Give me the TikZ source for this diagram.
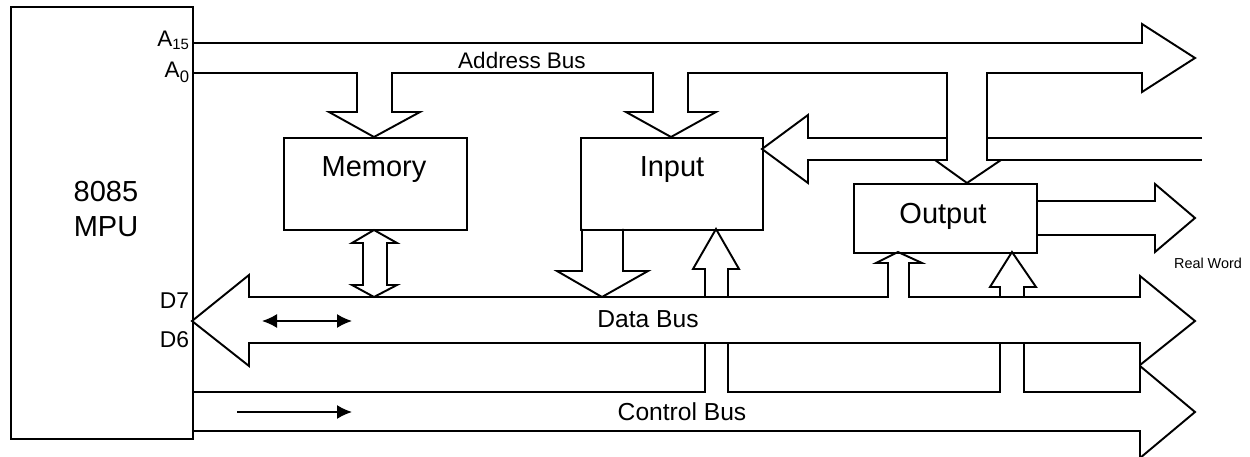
\documentclass[tikz,border=0pt]{standalone}
\usepackage{fontspec}
\setmainfont{Liberation Sans}
\usetikzlibrary{arrows.meta}

\newcommand{\fsz}[1]{\fontsize{#1}{#1}\selectfont}

\begin{document}
\begin{tikzpicture}[x=0.2mm, y=-0.2mm, line width=1.1pt, line join=miter,
            box/.style={draw, rectangle, inner sep=0pt, anchor=north west},
            blktxt/.style={inner sep=0pt, anchor=base, font=\fsz{16.5}},
            bustxt/.style={inner sep=0pt, anchor=base, font=\fsz{14}},
            pintxt/.style={inner sep=0pt, anchor=base east, font=\fsz{12.8}},
            hint/.style={line width=0.9pt, >={Latex[length=3mm,width=2.8mm]}}]
            \useasboundingbox (0,0) rectangle (1250,457);

            % blocks
            \node[box, minimum width=3.64cm, minimum height=8.64cm] (mpu) at (10,6) {};
            \node[box, minimum width=3.66cm, minimum height=1.84cm] (memory) at (283,137) {};
            \node[box, minimum width=3.64cm, minimum height=1.84cm] (input) at (580,137) {};
            \node[box, minimum width=3.66cm, minimum height=1.38cm] (output) at (853,183) {};

            \node[blktxt] (cpunum) at (106,202) {8085};
            \node[blktxt] (cpuname) at (106,237) {MPU};
            \node[blktxt] (memtxt) at (374,177) {Memory};
            \node[blktxt] (intxt) at (672,177) {Input};
            \node[blktxt] (outtxt) at (943,224) {Output};

            % pins on the MPU
            \node[pintxt] (a15) at (190,47) {A\raisebox{-0.06cm}{\fsz{8.5}15}};
            \node[pintxt] (a0) at (190,78) {A\raisebox{-0.1cm}{\fsz{9.5}0}};
            \node[pintxt, font=\fsz{13}] (d7) at (190,308) {D7};
            \node[pintxt, font=\fsz{13}] (d6) at (190,347) {D6};

            % address bus with the taps into memory, input and output
            \draw (192,43) -- (1142,43) -- (1142,24) -- (1195,58) -- (1142,92) -- (1142,73)
                -- (987,73) -- (987,160) -- (1001,160) -- (967,183) -- (935,160) -- (947,160) -- (947,73)
                -- (688,73) -- (688,112) -- (716,112) -- (671,137) -- (626,112) -- (653,112) -- (653,73)
                -- (392,73) -- (392,112) -- (420,112) -- (374,137) -- (329,112) -- (357,112) -- (357,73)
                -- (192,73);
            \node[bustxt, font=\fsz{12.8}] (addrtxt) at (522,69) {Address Bus};

            % outside world into input
            \draw (1202,138) -- (987,138);
            \draw (947,138) -- (808,138) -- (808,115) -- (762,149) -- (808,183) -- (808,160) -- (935,160);
            \draw (1001,160) -- (1202,160);

            % output to the outside world
            \draw (1036,201) -- (1155,201) -- (1155,184) -- (1195,218) -- (1155,252) -- (1155,235) -- (1036,235);
            \node[inner sep=0pt, anchor=base, font=\fsz{8.2}] (world) at (1208,268) {Real Word};

            % data bus
            \draw (888,297) -- (249,297) -- (249,275) -- (192,321) -- (249,366) -- (249,343)
                -- (1140,343) -- (1140,365) -- (1195,321) -- (1140,276) -- (1140,297) -- (909,297)
                -- (909,263) -- (922,263) -- (898,252) -- (876,263) -- (888,263) -- cycle;
            \node[bustxt] (datatxt) at (648,327) {Data Bus};

            % memory <-> data bus
            \draw (374,230) -- (397,243) -- (387,243) -- (387,285) -- (397,285) -- (374,297)
                -- (352,285) -- (363,285) -- (363,243) -- (352,243) -- cycle;
            % input -> data bus
            \draw (582,229) -- (582,271) -- (557,271) -- (602,297) -- (648,271) -- (623,271) -- (623,229);
            % control lines up into input and output
            \draw (705,297) -- (705,269) -- (693,269) -- (716,229) -- (739,269) -- (728,269) -- (728,297) -- cycle;
            \draw (1000,297) -- (1000,287) -- (990,287) -- (1012,252) -- (1036,287) -- (1024,287) -- (1024,297) -- cycle;

            % control bus
            \draw (192,392) -- (705,392) -- (705,343);
            \draw (728,343) -- (728,392) -- (1000,392) -- (1000,343);
            \draw (1024,343) -- (1024,392) -- (1140,392) -- (1140,366) -- (1195,412) -- (1140,458) -- (1140,431) -- (192,431);
            \node[bustxt] (ctrltxt) at (682,420) {Control Bus};

            % direction hints
            \coordinate (dl) at (262,321);
            \coordinate (dr) at (352,321);
            \draw[hint, <->] (dl) -- (dr);
            \coordinate (cl) at (237,412);
            \coordinate (cr) at (352,412);
            \draw[hint, ->] (cl) -- (cr);
        \end{tikzpicture}
\end{document}
